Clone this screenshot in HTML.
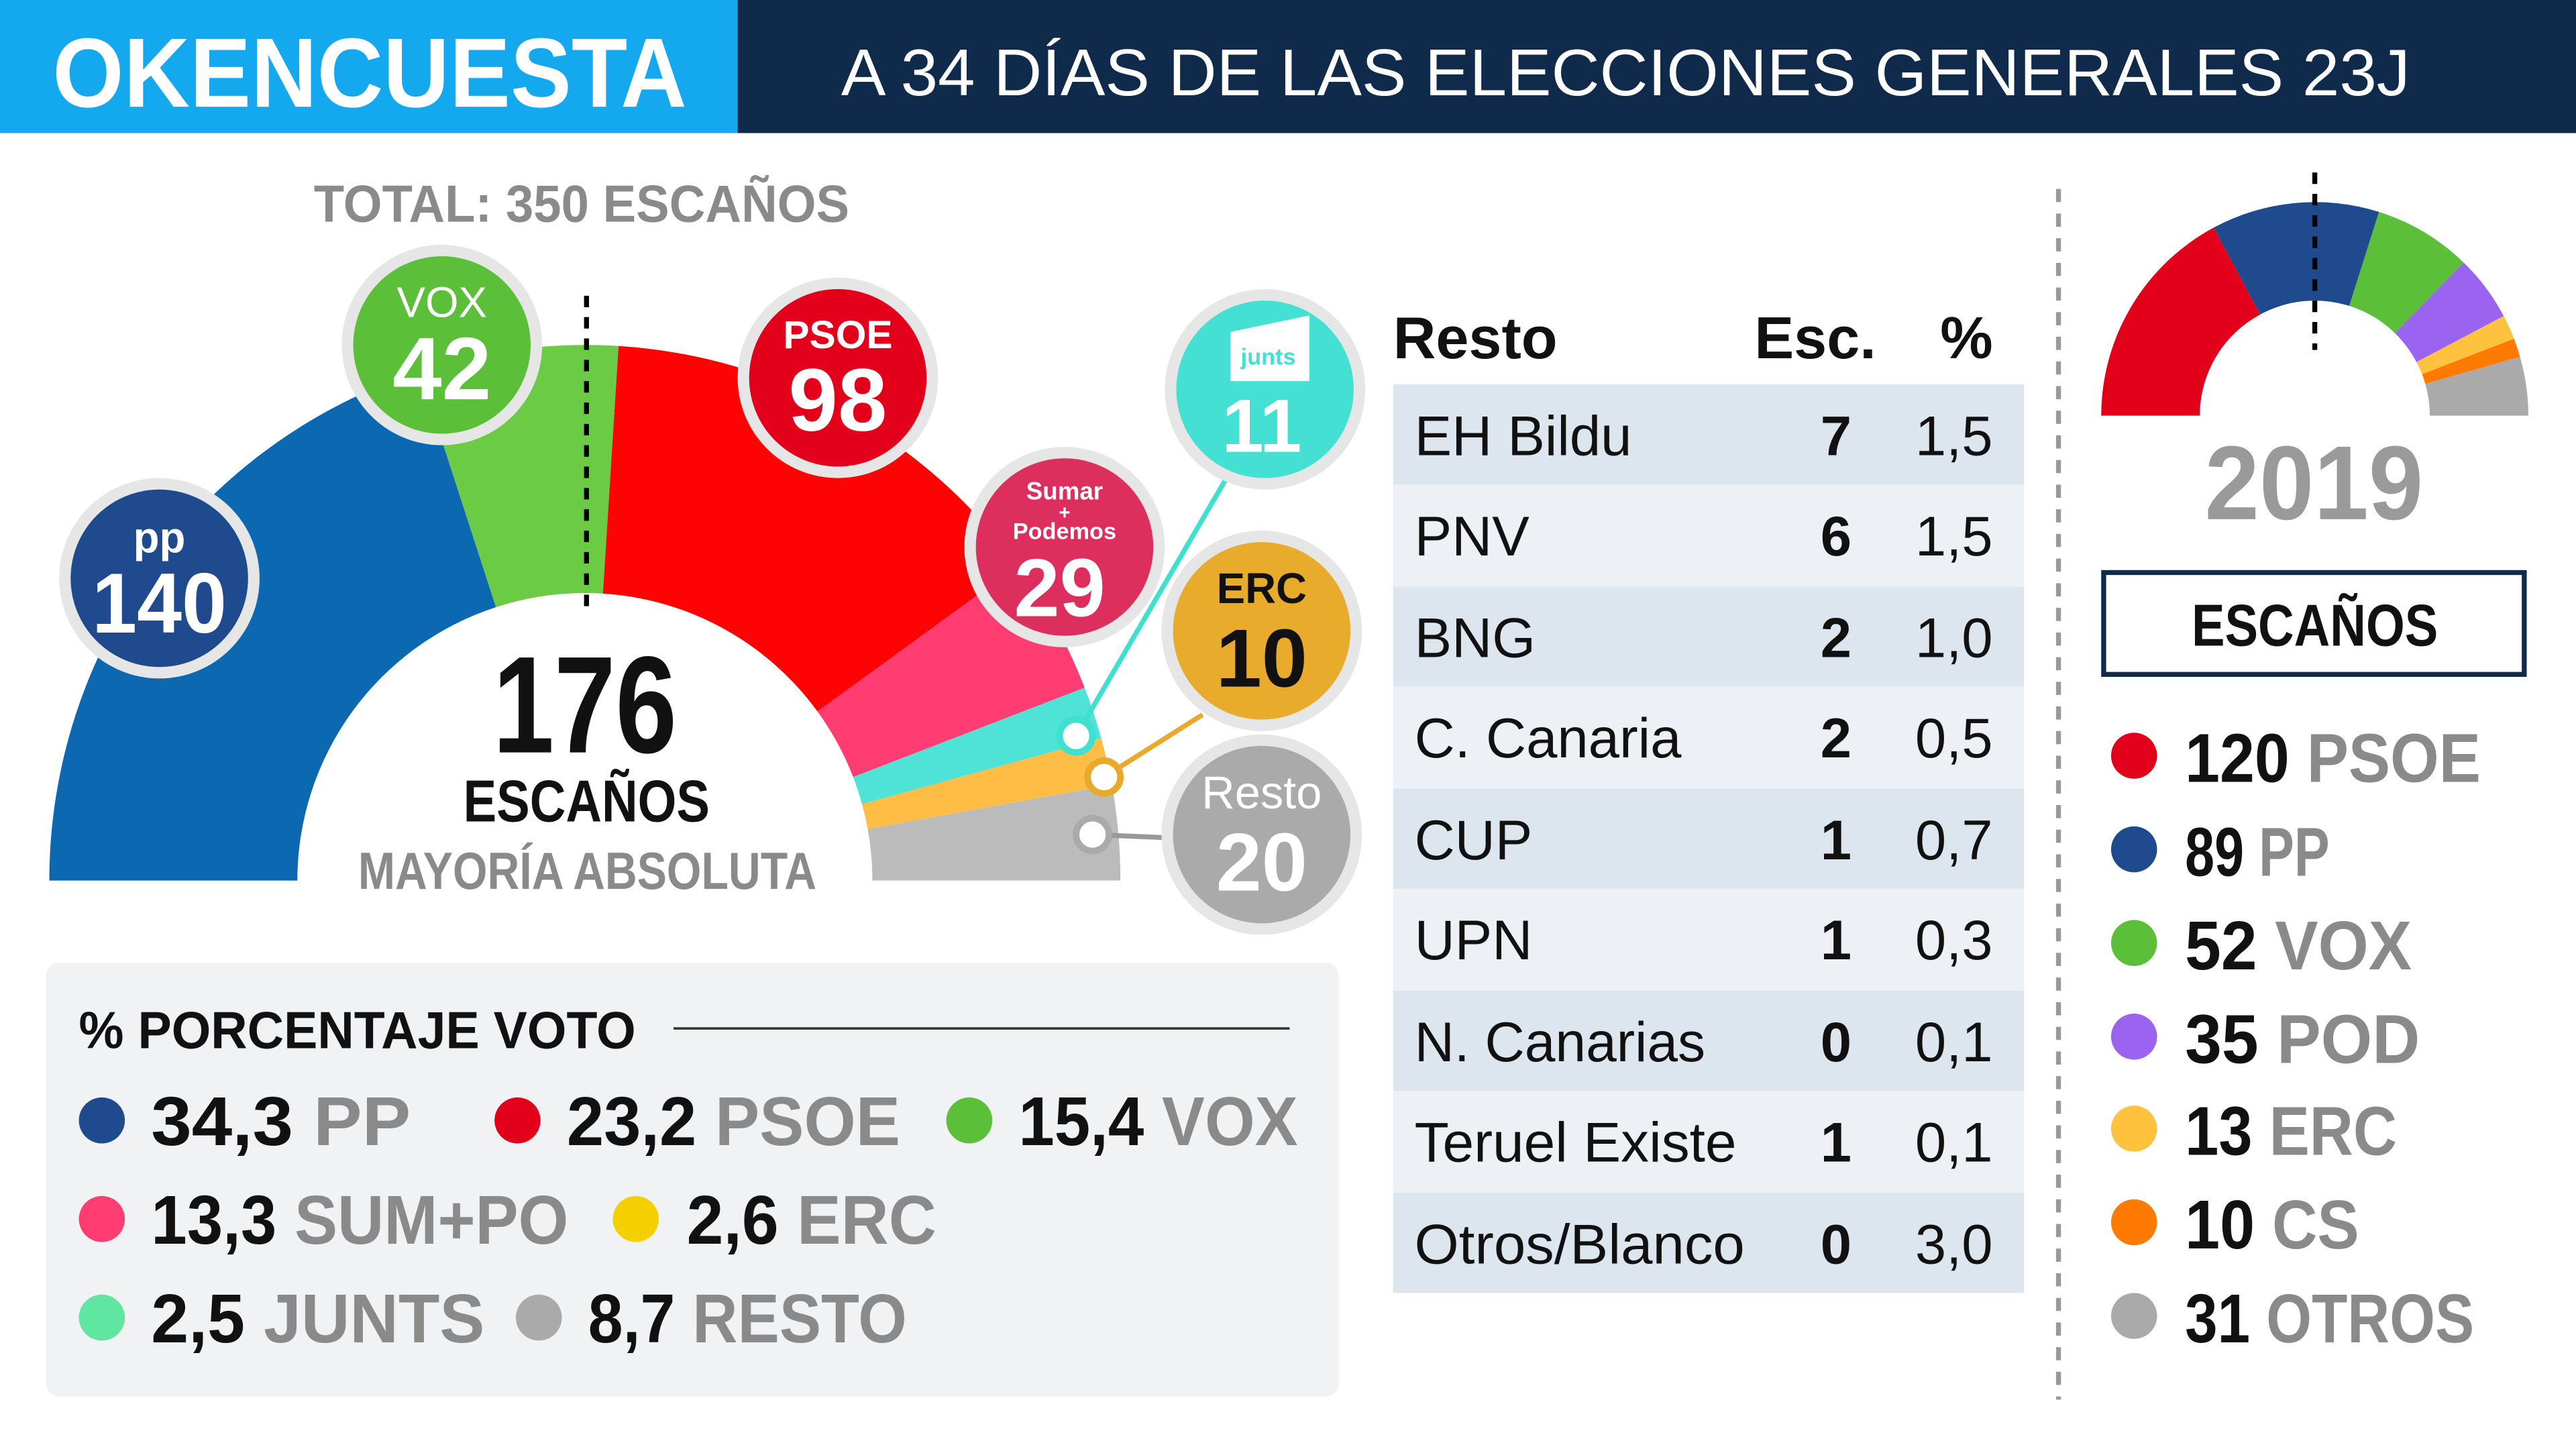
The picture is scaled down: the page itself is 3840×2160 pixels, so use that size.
<!DOCTYPE html>
<html><head><meta charset="utf-8"><style>
html,body{margin:0;padding:0;background:#fff;}
svg{display:block;}
text{font-family:"Liberation Sans Narrow","Liberation Sans",sans-serif;}
</style></head><body>
<svg width="3840" height="2160" viewBox="0 0 1568 882" xmlns="http://www.w3.org/2000/svg">
<rect width="1568" height="882" fill="#fff"/>
<rect x="0" y="0" width="449" height="81" fill="#14a8ee"/>
<rect x="449" y="0" width="1119" height="81" fill="#0f2a4b"/>
<text x="32" y="65" font-size="60" font-weight="bold" fill="#fff" textLength="386" lengthAdjust="spacingAndGlyphs">OKENCUESTA</text>
<text x="512" y="58" font-size="40" fill="#fff" textLength="955" lengthAdjust="spacingAndGlyphs">A 34 DÍAS DE LAS ELECCIONES GENERALES 23J</text>

<text x="191" y="135" font-size="32" font-weight="bold" fill="#8a8a8a" textLength="326" lengthAdjust="spacingAndGlyphs">TOTAL: 350 ESCAÑOS</text>

<path d="M30,536 A326,326 0 0 1 255.3,226 L301.9,369.6 A175,175 0 0 0 181,536 Z" fill="#0b68b1"/>
<path d="M255.3,226 A326,326 0 0 1 376.5,210.6 L367,361.3 A175,175 0 0 0 301.9,369.6 Z" fill="#6ccb44"/>
<path d="M376.5,210.6 A326,326 0 0 1 619.7,344.3 L497.6,433.1 A175,175 0 0 0 367,361.3 Z" fill="#fd0303"/>
<path d="M619.7,344.3 A326,326 0 0 1 660.2,418.6 L519.3,473 A175,175 0 0 0 497.6,433.1 Z" fill="#ff3d72"/>
<path d="M660.2,418.6 A326,326 0 0 1 670.3,449.4 L524.7,489.5 A175,175 0 0 0 519.3,473 Z" fill="#4fe3d8"/>
<path d="M670.3,449.4 A326,326 0 0 1 676.8,477.6 L528.2,504.7 A175,175 0 0 0 524.7,489.5 Z" fill="#ffbd45"/>
<path d="M676.8,477.6 A326,326 0 0 1 682,536 L531,536 A175,175 0 0 0 528.2,504.7 Z" fill="#bbbbbb"/>
<line x1="357" y1="180" x2="357" y2="370" stroke="#000" stroke-width="3" stroke-dasharray="7,6"/>
<text x="300" y="458" font-size="84" font-weight="bold" fill="#111" textLength="112" lengthAdjust="spacingAndGlyphs">176</text>
<text x="282" y="500" font-size="36" font-weight="bold" fill="#111" textLength="150" lengthAdjust="spacingAndGlyphs">ESCAÑOS</text>
<text x="218" y="541" font-size="32" font-weight="bold" fill="#8a8a8a" textLength="279" lengthAdjust="spacingAndGlyphs">MAYORÍA ABSOLUTA</text>

<line x1="746" y1="292" x2="655" y2="448" stroke="#40e0d0" stroke-width="3"/>
<line x1="732" y1="435" x2="672" y2="473" stroke="#e8a92c" stroke-width="3"/>
<line x1="712" y1="510" x2="665" y2="508" stroke="#999" stroke-width="3"/>
<circle cx="655" cy="448" r="10" fill="#fff" stroke="#40e0d0" stroke-width="4"/>
<circle cx="672" cy="473" r="10" fill="#fff" stroke="#e8a92c" stroke-width="4"/>
<circle cx="665" cy="508" r="10" fill="#fff" stroke="#aaa" stroke-width="4"/>

<g>
<circle cx="97" cy="352" r="61" fill="#e6e6e6"/><circle cx="97" cy="352" r="54" fill="#1f4b8e"/>
<text x="97" y="336" text-anchor="middle" font-size="26" font-weight="bold" fill="#fff">pp</text>
<text x="56" y="385" font-size="52" font-weight="bold" fill="#fff" textLength="82" lengthAdjust="spacingAndGlyphs">140</text>
<circle cx="269" cy="210" r="61" fill="#e6e6e6"/><circle cx="269" cy="210" r="54" fill="#5bbf3a"/>
<text x="269" y="193" text-anchor="middle" font-size="26" fill="#fff">VOX</text>
<text x="269" y="243" text-anchor="middle" font-size="54" font-weight="bold" fill="#fff">42</text>
<circle cx="510" cy="230" r="61" fill="#e6e6e6"/><circle cx="510" cy="230" r="54" fill="#e3001b"/>
<text x="510" y="212" text-anchor="middle" font-size="24" font-weight="bold" fill="#fff">PSOE</text>
<text x="510" y="262" text-anchor="middle" font-size="54" font-weight="bold" fill="#fff">98</text>
<circle cx="648" cy="333" r="61" fill="#e6e6e6"/><circle cx="648" cy="333" r="54" fill="#dc2f5e"/>
<text x="648" y="304" text-anchor="middle" font-size="15" font-weight="bold" fill="#fff">Sumar</text>
<text x="648" y="316" text-anchor="middle" font-size="12" font-weight="bold" fill="#fff">+</text>
<text x="648" y="328" text-anchor="middle" font-size="14" font-weight="bold" fill="#fff">Podemos</text>
<text x="645" y="375" text-anchor="middle" font-size="50" font-weight="bold" fill="#fff">29</text>
<circle cx="770" cy="237" r="61" fill="#e6e6e6"/><circle cx="770" cy="237" r="54" fill="#43e0d3"/>
<path d="M749,202 L797,192 L797,232 L749,232 Z" fill="#fff"/>
<text x="772" y="222" text-anchor="middle" font-size="14" font-weight="bold" fill="#43e0d3">junts</text>
<text x="768" y="275" text-anchor="middle" font-size="46" font-weight="bold" fill="#fff">11</text>
<circle cx="768" cy="384" r="61" fill="#e6e6e6"/><circle cx="768" cy="384" r="54" fill="#e9ab2c"/>
<text x="768" y="367" text-anchor="middle" font-size="26" font-weight="bold" fill="#111">ERC</text>
<text x="768" y="418" text-anchor="middle" font-size="50" font-weight="bold" fill="#111">10</text>
<circle cx="768" cy="508" r="61" fill="#e6e6e6"/><circle cx="768" cy="508" r="54" fill="#aaaaaa"/>
<text x="768" y="492" text-anchor="middle" font-size="28" fill="#fff">Resto</text>
<text x="768" y="542" text-anchor="middle" font-size="50" font-weight="bold" fill="#fff">20</text>
</g>

<rect x="28" y="586" width="787" height="264" rx="8" fill="#f1f2f4"/>
<text x="48" y="638" font-size="32" font-weight="bold" fill="#111" textLength="339" lengthAdjust="spacingAndGlyphs">% PORCENTAJE VOTO</text>
<line x1="410" y1="626" x2="785" y2="626" stroke="#333" stroke-width="1.5"/>
<g font-size="42" font-weight="bold">
<circle cx="62" cy="682" r="14" fill="#1f4b8e"/><text x="92" y="697" fill="#111" textLength="158" lengthAdjust="spacingAndGlyphs">34,3 <tspan fill="#8a8a8a">PP</tspan></text>
<circle cx="315" cy="682" r="14" fill="#e3001b"/><text x="345" y="697" fill="#111" textLength="203" lengthAdjust="spacingAndGlyphs">23,2 <tspan fill="#8a8a8a">PSOE</tspan></text>
<circle cx="590" cy="682" r="14" fill="#5bbf3a"/><text x="620" y="697" fill="#111" textLength="170" lengthAdjust="spacingAndGlyphs">15,4 <tspan fill="#8a8a8a">VOX</tspan></text>
<circle cx="62" cy="742" r="14" fill="#ff3d72"/><text x="92" y="757" fill="#111" textLength="254" lengthAdjust="spacingAndGlyphs">13,3 <tspan fill="#8a8a8a">SUM+PO</tspan></text>
<circle cx="387" cy="742" r="14" fill="#f5d000"/><text x="418" y="757" fill="#111" textLength="152" lengthAdjust="spacingAndGlyphs">2,6 <tspan fill="#8a8a8a">ERC</tspan></text>
<circle cx="62" cy="802" r="14" fill="#5fe6a0"/><text x="92" y="817" fill="#111" textLength="203" lengthAdjust="spacingAndGlyphs">2,5 <tspan fill="#8a8a8a">JUNTS</tspan></text>
<circle cx="328" cy="802" r="14" fill="#aaaaaa"/><text x="358" y="817" fill="#111" textLength="194" lengthAdjust="spacingAndGlyphs">8,7 <tspan fill="#8a8a8a">RESTO</tspan></text>
</g>

<g font-size="34" fill="#111">
<text x="848" y="218" font-weight="bold" font-size="36">Resto</text>
<text x="1142" y="218" font-weight="bold" text-anchor="end" font-size="36">Esc.</text>
<text x="1213" y="218" font-weight="bold" text-anchor="end" font-size="36">%</text>
<rect x="848" y="234" width="384" height="61" fill="#dde6ee"/>
<rect x="848" y="295" width="384" height="62" fill="#edf1f5"/>
<rect x="848" y="357" width="384" height="61" fill="#dde6ee"/>
<rect x="848" y="418" width="384" height="62" fill="#edf1f5"/>
<rect x="848" y="480" width="384" height="61" fill="#dde6ee"/>
<rect x="848" y="541" width="384" height="62" fill="#edf1f5"/>
<rect x="848" y="603" width="384" height="61" fill="#dde6ee"/>
<rect x="848" y="664" width="384" height="62" fill="#edf1f5"/>
<rect x="848" y="726" width="384" height="61" fill="#dde6ee"/>
<g>
<text x="861" y="277">EH Bildu</text><text x="1127" y="277" text-anchor="end" font-weight="bold">7</text><text x="1213" y="277" text-anchor="end">1,5</text>
<text x="861" y="338">PNV</text><text x="1127" y="338" text-anchor="end" font-weight="bold">6</text><text x="1213" y="338" text-anchor="end">1,5</text>
<text x="861" y="400">BNG</text><text x="1127" y="400" text-anchor="end" font-weight="bold">2</text><text x="1213" y="400" text-anchor="end">1,0</text>
<text x="861" y="461">C. Canaria</text><text x="1127" y="461" text-anchor="end" font-weight="bold">2</text><text x="1213" y="461" text-anchor="end">0,5</text>
<text x="861" y="523">CUP</text><text x="1127" y="523" text-anchor="end" font-weight="bold">1</text><text x="1213" y="523" text-anchor="end">0,7</text>
<text x="861" y="584">UPN</text><text x="1127" y="584" text-anchor="end" font-weight="bold">1</text><text x="1213" y="584" text-anchor="end">0,3</text>
<text x="861" y="646" textLength="177" lengthAdjust="spacingAndGlyphs">N. Canarias</text><text x="1127" y="646" text-anchor="end" font-weight="bold">0</text><text x="1213" y="646" text-anchor="end">0,1</text>
<text x="861" y="707" textLength="196" lengthAdjust="spacingAndGlyphs">Teruel Existe</text><text x="1127" y="707" text-anchor="end" font-weight="bold">1</text><text x="1213" y="707" text-anchor="end">0,1</text>
<text x="861" y="769" textLength="201" lengthAdjust="spacingAndGlyphs">Otros/Blanco</text><text x="1127" y="769" text-anchor="end" font-weight="bold">0</text><text x="1213" y="769" text-anchor="end">3,0</text>
</g>
</g>

<line x1="1253" y1="115" x2="1253" y2="852" stroke="#999" stroke-width="3" stroke-dasharray="8,7"/>
<path d="M1279,253 A130,130 0 0 1 1347.4,138.6 L1375.8,191.4 A70,70 0 0 0 1339,253 Z" fill="#e3001b"/>
<path d="M1347.4,138.6 A130,130 0 0 1 1448.1,129 L1430,186.2 A70,70 0 0 0 1375.8,191.4 Z" fill="#1f4b8e"/>
<path d="M1448.1,129 A130,130 0 0 1 1499.6,159.8 L1457.8,202.8 A70,70 0 0 0 1430,186.2 Z" fill="#5bbf3a"/>
<path d="M1499.6,159.8 A130,130 0 0 1 1524,192.4 L1470.9,220.4 A70,70 0 0 0 1457.8,202.8 Z" fill="#9a63f0"/>
<path d="M1524,192.4 A130,130 0 0 1 1530.3,206.2 L1474.3,227.8 A70,70 0 0 0 1470.9,220.4 Z" fill="#ffc23f"/>
<path d="M1530.3,206.2 A130,130 0 0 1 1533.9,217.2 L1476.3,233.7 A70,70 0 0 0 1474.3,227.8 Z" fill="#ff7a00"/>
<path d="M1533.9,217.2 A130,130 0 0 1 1539,253 L1479,253 A70,70 0 0 0 1476.3,233.7 Z" fill="#aaaaaa"/>
<line x1="1409" y1="105" x2="1409" y2="213" stroke="#000" stroke-width="3" stroke-dasharray="7,6"/>
<text x="1342" y="316" font-size="64" font-weight="bold" fill="#9a9a9a" textLength="133" lengthAdjust="spacingAndGlyphs">2019</text>
<rect x="1280.5" y="348.5" width="256" height="62" fill="#fff" stroke="#0f2a4b" stroke-width="3"/>
<text x="1334" y="393" font-size="36" font-weight="bold" fill="#111" textLength="150" lengthAdjust="spacingAndGlyphs">ESCAÑOS</text>
<g font-size="42" font-weight="bold">
<circle cx="1299" cy="460" r="14" fill="#e3001b"/><text x="1330" y="476" fill="#111" textLength="180" lengthAdjust="spacingAndGlyphs">120 <tspan fill="#8a8a8a">PSOE</tspan></text>
<circle cx="1299" cy="517" r="14" fill="#1f4b8e"/><text x="1330" y="533" fill="#111" textLength="88" lengthAdjust="spacingAndGlyphs">89 <tspan fill="#8a8a8a">PP</tspan></text>
<circle cx="1299" cy="574" r="14" fill="#5bbf3a"/><text x="1330" y="590" fill="#111" textLength="138" lengthAdjust="spacingAndGlyphs">52 <tspan fill="#8a8a8a">VOX</tspan></text>
<circle cx="1299" cy="631" r="14" fill="#9a63f0"/><text x="1330" y="647" fill="#111" textLength="143" lengthAdjust="spacingAndGlyphs">35 <tspan fill="#8a8a8a">POD</tspan></text>
<circle cx="1299" cy="687" r="14" fill="#ffc23f"/><text x="1330" y="703" fill="#111" textLength="129" lengthAdjust="spacingAndGlyphs">13 <tspan fill="#8a8a8a">ERC</tspan></text>
<circle cx="1299" cy="744" r="14" fill="#ff7a00"/><text x="1330" y="760" fill="#111" textLength="106" lengthAdjust="spacingAndGlyphs">10 <tspan fill="#8a8a8a">CS</tspan></text>
<circle cx="1299" cy="801" r="14" fill="#aaaaaa"/><text x="1330" y="817" fill="#111" textLength="176" lengthAdjust="spacingAndGlyphs">31 <tspan fill="#8a8a8a">OTROS</tspan></text>
</g>
</svg>
</body></html>
